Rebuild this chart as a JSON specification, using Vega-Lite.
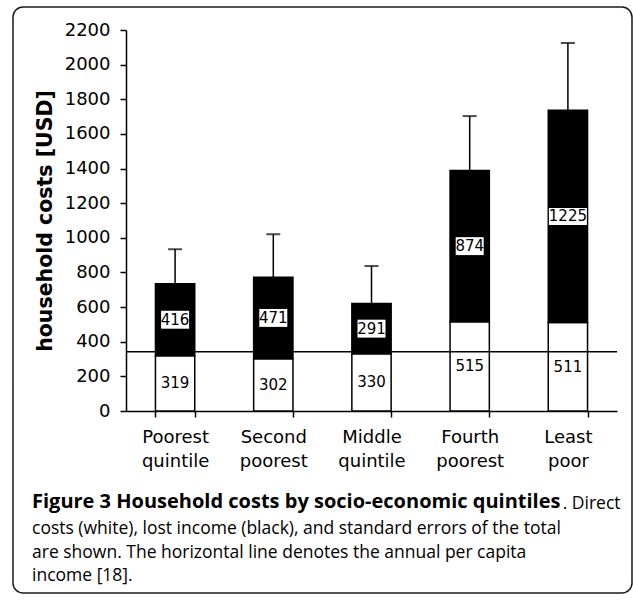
{
  "$schema": "https://vega.github.io/schema/vega-lite/v6.json",
  "width": 619,
  "height": 586,
  "autosize": "none",
  "padding": {"left": 13, "top": 7, "right": 1, "bottom": 7},
  "background": "white",
  "datasets": {
    "costs": [
      {"quintile": "Poorest quintile", "component": "direct costs", "value": 319},
      {"quintile": "Poorest quintile", "component": "lost income", "value": 416},
      {"quintile": "Second poorest", "component": "direct costs", "value": 302},
      {"quintile": "Second poorest", "component": "lost income", "value": 471},
      {"quintile": "Middle quintile", "component": "direct costs", "value": 330},
      {"quintile": "Middle quintile", "component": "lost income", "value": 291},
      {"quintile": "Fourth poorest", "component": "direct costs", "value": 515},
      {"quintile": "Fourth poorest", "component": "lost income", "value": 874},
      {"quintile": "Least poor", "component": "direct costs", "value": 511},
      {"quintile": "Least poor", "component": "lost income", "value": 1225}
    ],
    "errors": [
      {"quintile": "Poorest quintile", "total": 735, "upper": 934},
      {"quintile": "Second poorest", "total": 773, "upper": 1020},
      {"quintile": "Middle quintile", "total": 621, "upper": 837},
      {"quintile": "Fourth poorest", "total": 1389, "upper": 1703},
      {"quintile": "Least poor", "total": 1736, "upper": 2125}
    ],
    "income": [{"label": "annual per capita income", "income": 342}]
  },
  "title": {
    "text": "Figure 3 Household costs by socio-economic quintiles",
    "subtitle": [
      "costs (white), lost income (black), and standard errors of the total",
      "are shown. The horizontal line denotes the annual per capita",
      "income [18]."
    ],
    "orient": "bottom",
    "anchor": "start",
    "frame": "group",
    "offset": -101,
    "dx": 19,
    "font": "Open Sans",
    "fontSize": 20,
    "fontWeight": "bold",
    "color": "black",
    "subtitleFont": "Open Sans",
    "subtitleFontSize": 17.5,
    "subtitleColor": "black",
    "subtitleLineHeight": 23.7,
    "subtitlePadding": 8
  },
  "layer": [
    {
      "encoding": {
        "x": {
          "field": "quintile",
          "type": "nominal",
          "sort": null,
          "scale": {
            "domain": ["Poorest quintile", "Second poorest", "Middle quintile", "Fourth poorest", "Least poor"],
            "range": [113, 604],
            "paddingInner": 0.6,
            "paddingOuter": 0.3
          },
          "axis": {
            "title": ". Direct",
            "labelExpr": "split(datum.label, ' ')",
            "titleX": 607,
            "titleY": 97,
            "titleAlign": "right",
            "titleBaseline": "alphabetic",
            "titleFont": "Open Sans",
            "titleFontSize": 17.5,
            "titleFontWeight": "normal"
          }
        }
      },
      "layer": [
        {
          "data": {"name": "costs"},
          "mark": {"type": "bar", "stroke": "black", "strokeWidth": 1.5},
          "encoding": {
            "y": {
              "field": "value",
              "type": "quantitative",
              "stack": "zero",
              "title": "household costs [USD]",
              "scale": {"domain": [0, 2200], "range": [404, 23], "nice": false, "zero": true},
              "axis": {"values": [0, 200, 400, 600, 800, 1000, 1200, 1400, 1600, 1800, 2000, 2200], "format": "d"}
            },
            "fill": {
              "field": "component",
              "type": "nominal",
              "scale": {"domain": ["direct costs", "lost income"], "range": ["white", "black"]},
              "legend": null
            },
            "order": {"field": "component", "sort": "ascending"}
          }
        },
        {
          "data": {"name": "costs"},
          "mark": {"type": "point", "filled": true, "fill": "white", "strokeWidth": 0},
          "encoding": {
            "y": {"field": "value", "type": "quantitative", "stack": "zero", "bandPosition": 0.5, "title": "household costs [USD]"},
            "detail": {"field": "component"},
            "order": {"field": "component", "sort": "ascending"},
            "shape": {
              "condition": {"test": "datum.value >= 1000", "value": "M-1,-0.45L1,-0.45L1,0.45L-1,0.45Z"},
              "value": "M-1,-0.64L1,-0.64L1,0.64L-1,0.64Z"
            },
            "size": {"condition": {"test": "datum.value >= 1000", "value": 1444}, "value": 784},
            "opacity": {"condition": {"test": "datum.component === 'lost income'", "value": 1}, "value": 0}
          }
        },
        {
          "data": {"name": "costs"},
          "mark": {"type": "text", "font": "DejaVu Sans", "fontSize": 15, "color": "black", "baseline": "middle"},
          "encoding": {
            "y": {"field": "value", "type": "quantitative", "stack": "zero", "bandPosition": 0.5, "title": "household costs [USD]"},
            "detail": {"field": "component"},
            "order": {"field": "component", "sort": "ascending"},
            "text": {"field": "value", "type": "quantitative", "format": "d"}
          }
        },
        {
          "data": {"name": "errors"},
          "mark": {"type": "rule", "color": "black", "strokeWidth": 1.5},
          "encoding": {
            "y": {"field": "total", "type": "quantitative", "title": "household costs [USD]"},
            "y2": {"field": "upper"}
          }
        },
        {
          "data": {"name": "errors"},
          "mark": {"type": "tick", "orient": "horizontal", "color": "black", "thickness": 2, "size": 14},
          "encoding": {
            "y": {"field": "upper", "type": "quantitative", "title": "household costs [USD]"}
          }
        }
      ]
    },
    {
      "data": {"name": "income"},
      "mark": {"type": "rule", "color": "black", "strokeWidth": 1.5},
      "encoding": {
        "x": {"datum": 0, "type": "quantitative", "scale": {"domain": [0, 1], "range": [113, 604]}, "axis": null},
        "x2": {"datum": 1},
        "y": {"field": "income", "type": "quantitative", "title": "household costs [USD]"}
      }
    }
  ],
  "resolve": {"scale": {"x": "independent"}},
  "config": {
    "font": "DejaVu Sans",
    "view": {"stroke": "#1a1a1a", "strokeWidth": 1.5, "cornerRadius": 10},
    "axis": {
      "domainColor": "black",
      "domainWidth": 1.5,
      "tickColor": "black",
      "tickWidth": 1.5,
      "tickSize": 6,
      "labelColor": "black",
      "labelFont": "DejaVu Sans",
      "labelFontSize": 18,
      "grid": false,
      "titleColor": "black"
    },
    "axisX": {
      "offset": -182,
      "tickBand": "extent",
      "labelAngle": 0,
      "labelPadding": 11,
      "labelLineHeight": 24
    },
    "axisY": {
      "offset": -113,
      "labelPadding": 10,
      "titleFont": "DejaVu Sans",
      "titleFontSize": 20.5,
      "titleFontWeight": "bold",
      "titlePadding": 9
    }
  }
}
